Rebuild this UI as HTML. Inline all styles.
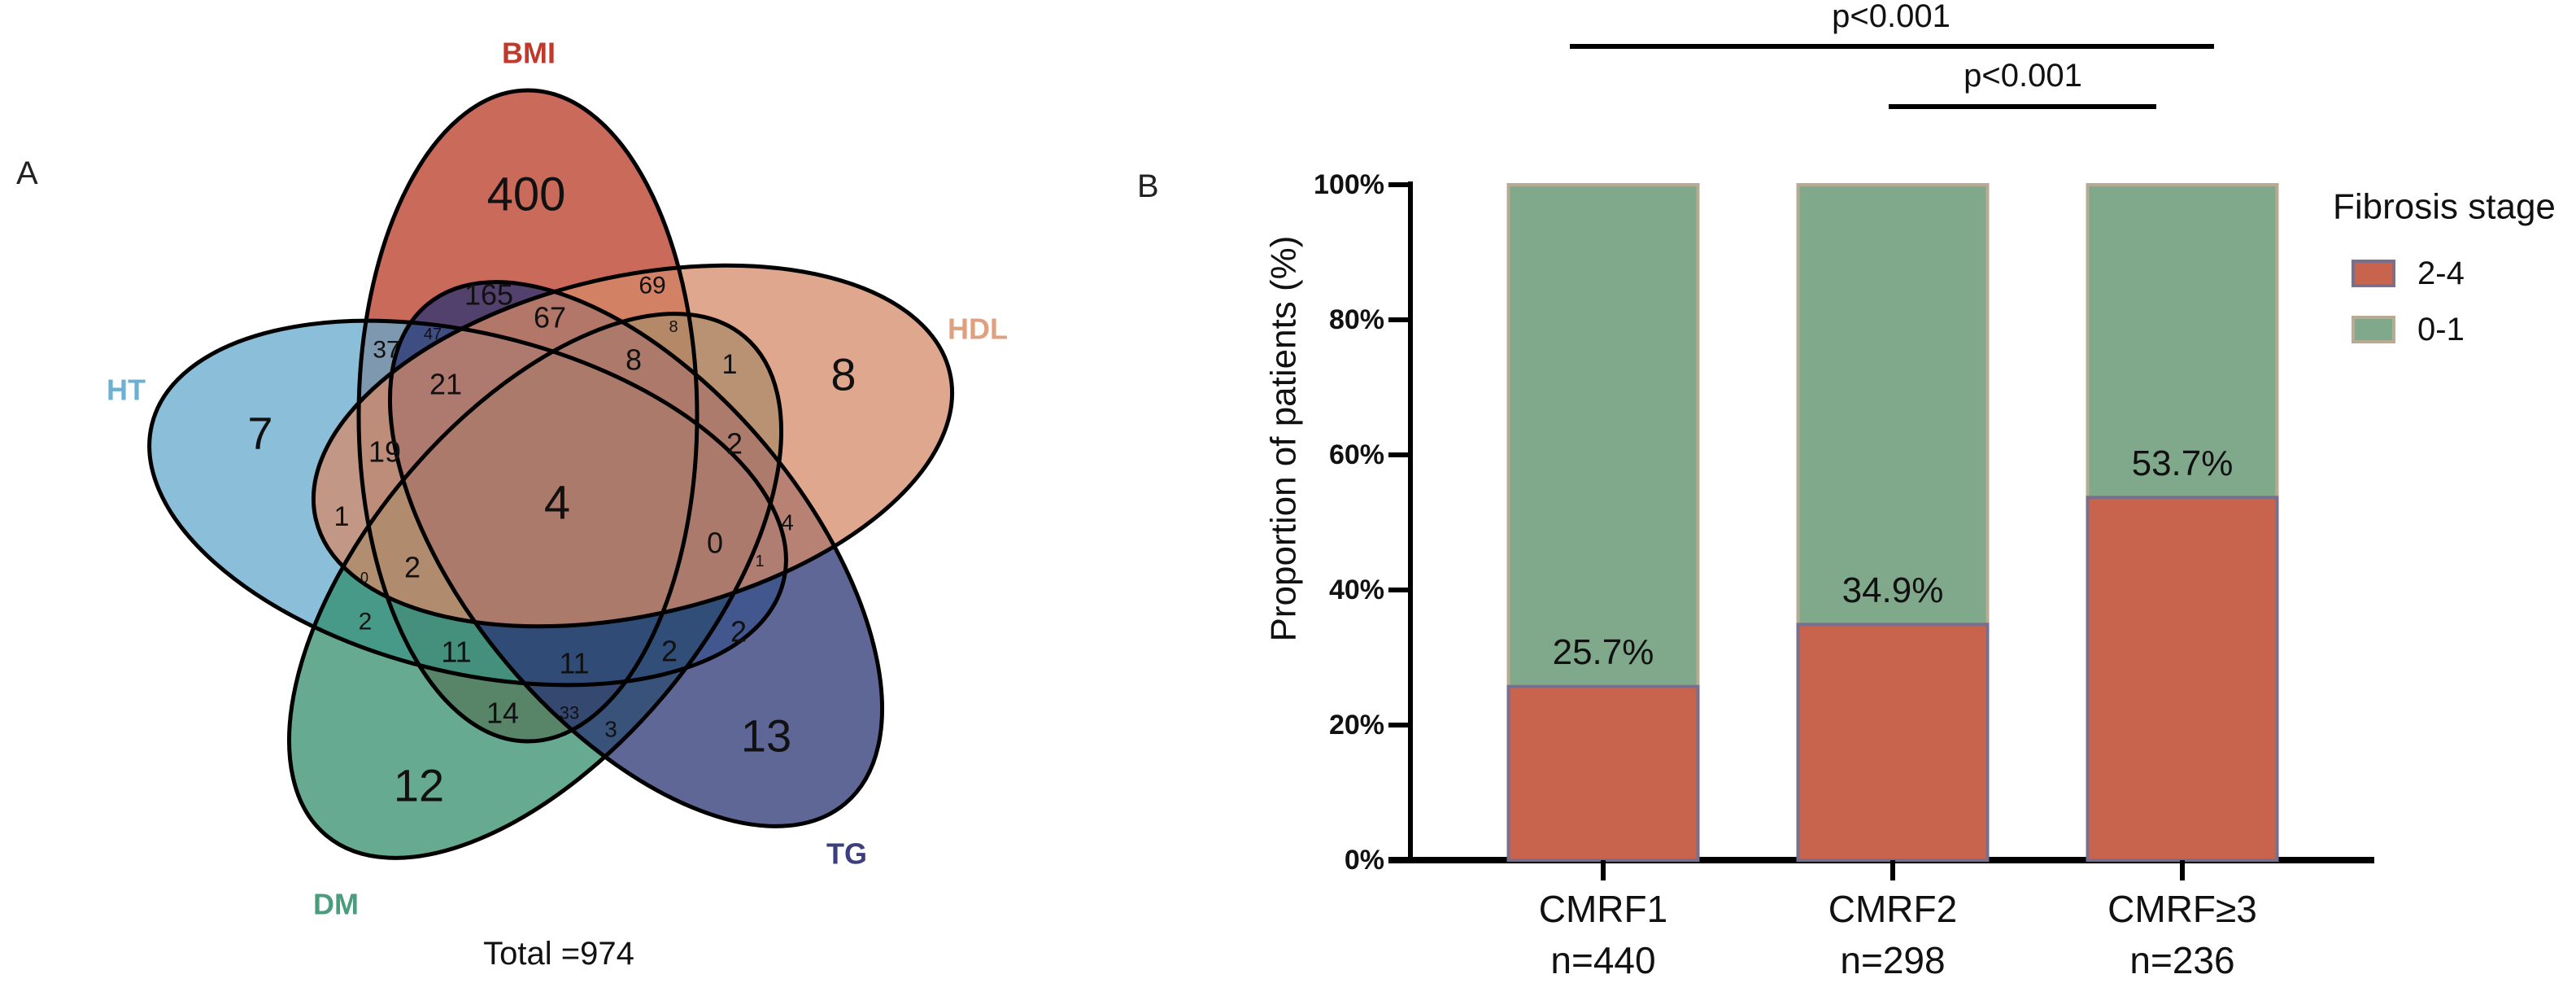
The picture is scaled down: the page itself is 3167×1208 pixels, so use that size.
<!DOCTYPE html>
<html><head><meta charset="utf-8"><style>
html,body{margin:0;padding:0;background:#fff}
svg{display:block}
text{font-family:"Liberation Sans",sans-serif}
</style></head><body>
<svg id="fig" width="3167" height="1208" viewBox="0 0 3167 1208" xmlns="http://www.w3.org/2000/svg">
<g id="venn"></g>
<g id="bars"></g>
</svg>
<script>
// ---------- Venn data ----------
const setNames = ["HT","DM","BMI","TG","HDL"];
const setCenters = [[575,618],[658,720],[649,511],[782,681],[778,548]];
const setAngles = [14,-50,90,50,-13];
const setColors = ["#64aacc","#328e6c","#b73823","#2a3473","#d48a68"];
const setLabelPos = [[155,479],[413,1111],[650,65],[1041,1049],[1202,404]];
const setLabelColors = ["#6cb0d2","#4a9c7c","#c0392b","#3b3f7e","#dfa07f"];
const regionCounts = ["400","165","67","69","8","37","47","21","8","1","8","19","2","4","1","0","4","1","0","2","2","11","11","2","2","14","33","3","13","12","7"];
const regionPos = [[647,239],[601,362],[676,390],[802,351],[828,402],[475,430],[532,411],[548,472],[779,442],[897,448],[1037,460],[473,555],[903,545],[685,618],[420,635],[879,667],[968,642],[934,690],[448,710],[507,697],[449,764],[561,801],[706,815],[823,800],[908,776],[618,876],[700,876],[751,896],[942,904],[515,965],[320,532]];
const regionSize = [58,36,36,30,20,30,20,36,36,34,56,36,36,58,34,36,28,20,18,36,30,36,36,36,36,36,22,28,56,56,56];

const NS="http://www.w3.org/2000/svg";
function mk(tag,attrs,parent){const e=document.createElementNS(NS,tag);for(const k in attrs)e.setAttribute(k,attrs[k]);parent.appendChild(e);return e;}
const venn=document.getElementById('venn');
const fillOrder=[2,0,1,3,4];
fillOrder.forEach(i=>{
  const c=setCenters[i];
  const e=mk('ellipse',{cx:c[0],cy:c[1],rx:400,ry:208,transform:`rotate(${setAngles[i]} ${c[0]} ${c[1]})`,fill:setColors[i],'fill-opacity':0.75,stroke:'none'},venn);
  
  
});
fillOrder.forEach(i=>{
  const c=setCenters[i];
  const e=mk('ellipse',{cx:c[0],cy:c[1],rx:400,ry:208,transform:`rotate(${setAngles[i]} ${c[0]} ${c[1]})`,fill:'none',stroke:'#000','stroke-width':5},venn);
  
  
});
regionCounts.forEach((v,i)=>{
  const t=mk('text',{x:regionPos[i][0],y:regionPos[i][1],'font-size':regionSize[i],'text-anchor':'middle','dominant-baseline':'central',fill:'#111'},venn);
  t.textContent=v;
  
  
});
setNames.forEach((n,i)=>{
  const t=mk('text',{x:setLabelPos[i][0],y:setLabelPos[i][1],'font-size':36,'font-weight':'bold','text-anchor':'middle','dominant-baseline':'central',fill:setLabelColors[i]},venn);
  t.textContent=n;
  
  
});
let tt=mk('text',{x:687,y:1172,'font-size':40,'text-anchor':'middle','dominant-baseline':'central',fill:'#111'},venn);
tt.textContent="Total =974";


tt=mk('text',{x:20,y:226,'font-size':40,fill:'#222'},venn);
tt.textContent="A";



// ---------- Bar chart data ----------
const categories = ["CMRF1","CMRF2","CMRF≥3"];
const sampleSizes = ["n=440","n=298","n=236"];
const stage24 = [25.7,34.9,53.7];
const valueLabels = ["25.7%","34.9%","53.7%"];
const yTicks = [0,20,40,60,80,100];
const yTickLabels = ["0%","20%","40%","60%","80%","100%"];
const seriesNames = ["2-4","0-1"];

const bars=document.getElementById('bars');
const X0=1734, X1=2919, Y0=1057, Y100=227;
const y=v=>Y0+(Y100-Y0)*v/100;
const barW=233;
const xc=i=>1971+i*356;
let a=mk('line',{x1:X0,y1:Y100-4,x2:X0,y2:Y0,stroke:'#000','stroke-width':6},bars);

a=mk('line',{x1:1707,y1:Y0,x2:X1,y2:Y0,stroke:'#000','stroke-width':8},bars);

yTicks.forEach((v,i)=>{
  const l=mk('line',{x1:1707,y1:y(v),x2:X0,y2:y(v),stroke:'#000','stroke-width':6},bars);
  
  const t=mk('text',{x:1702,y:y(v),'font-size':34,'font-weight':'bold','text-anchor':'end','dominant-baseline':'central',fill:'#111'},bars);
  t.textContent=yTickLabels[i];
  
});
categories.forEach((c,i)=>{
  const cx=xc(i);
  const top=mk('rect',{x:cx-barW/2,y:y(100),width:barW,height:y(stage24[i])-y(100),fill:'#80a98c',stroke:'#b7ac93','stroke-width':4},bars);
  
  const bot=mk('rect',{x:cx-barW/2,y:y(stage24[i]),width:barW,height:Y0-y(stage24[i]),fill:'#c8644e',stroke:'#7a6f8a','stroke-width':4},bars);
  
  const vl=mk('text',{x:cx,y:y(stage24[i])-42,'font-size':44,'text-anchor':'middle','dominant-baseline':'central',fill:'#111'},bars);
  vl.textContent=valueLabels[i];
  
  const tk=mk('line',{x1:cx,y1:Y0,x2:cx,y2:1082,stroke:'#000','stroke-width':6},bars);
  
  const cl=mk('text',{x:cx,y:1117,'font-size':46,'text-anchor':'middle','dominant-baseline':'central',fill:'#111'},bars);
  cl.textContent=c;
  
  const nl=mk('text',{x:cx,y:1180,'font-size':46,'text-anchor':'middle','dominant-baseline':'central',fill:'#111'},bars);
  nl.textContent=sampleSizes[i];
  
});
let yt=mk('text',{x:0,y:0,'font-size':44,'text-anchor':'middle','dominant-baseline':'central',fill:'#111',transform:'translate(1578,539) rotate(-90)'},bars);
yt.textContent="Proportion of patients (%)";

let s=mk('line',{x1:1930,y1:57,x2:2722,y2:57,stroke:'#000','stroke-width':6},bars);

s=mk('text',{x:2325,y:20,'font-size':40,'text-anchor':'middle','dominant-baseline':'central',fill:'#111'},bars);
s.textContent="p<0.001";
s=mk('line',{x1:2322,y1:131,x2:2651,y2:131,stroke:'#000','stroke-width':6},bars);

s=mk('text',{x:2487,y:93,'font-size':40,'text-anchor':'middle','dominant-baseline':'central',fill:'#111'},bars);
s.textContent="p<0.001";
let lg=mk('text',{x:2868,y:254,'font-size':44,'dominant-baseline':'central',fill:'#111'},bars);
lg.textContent="Fibrosis stage";
const legFill=["#c8644e","#80a98c"], legStroke=["#7a6f8a","#b7ac93"];
seriesNames.forEach((n,i)=>{
  const r=mk('rect',{x:2893,y:321+i*69,width:50,height:30,fill:legFill[i],stroke:legStroke[i],'stroke-width':4},bars);
  
  const t=mk('text',{x:2972,y:336+i*69,'font-size':40,'dominant-baseline':'central',fill:'#111'},bars);
  t.textContent=n;
});
lg=mk('text',{x:1398,y:242,'font-size':40,fill:'#222'},bars);
lg.textContent="B";
</script>
</body></html>
